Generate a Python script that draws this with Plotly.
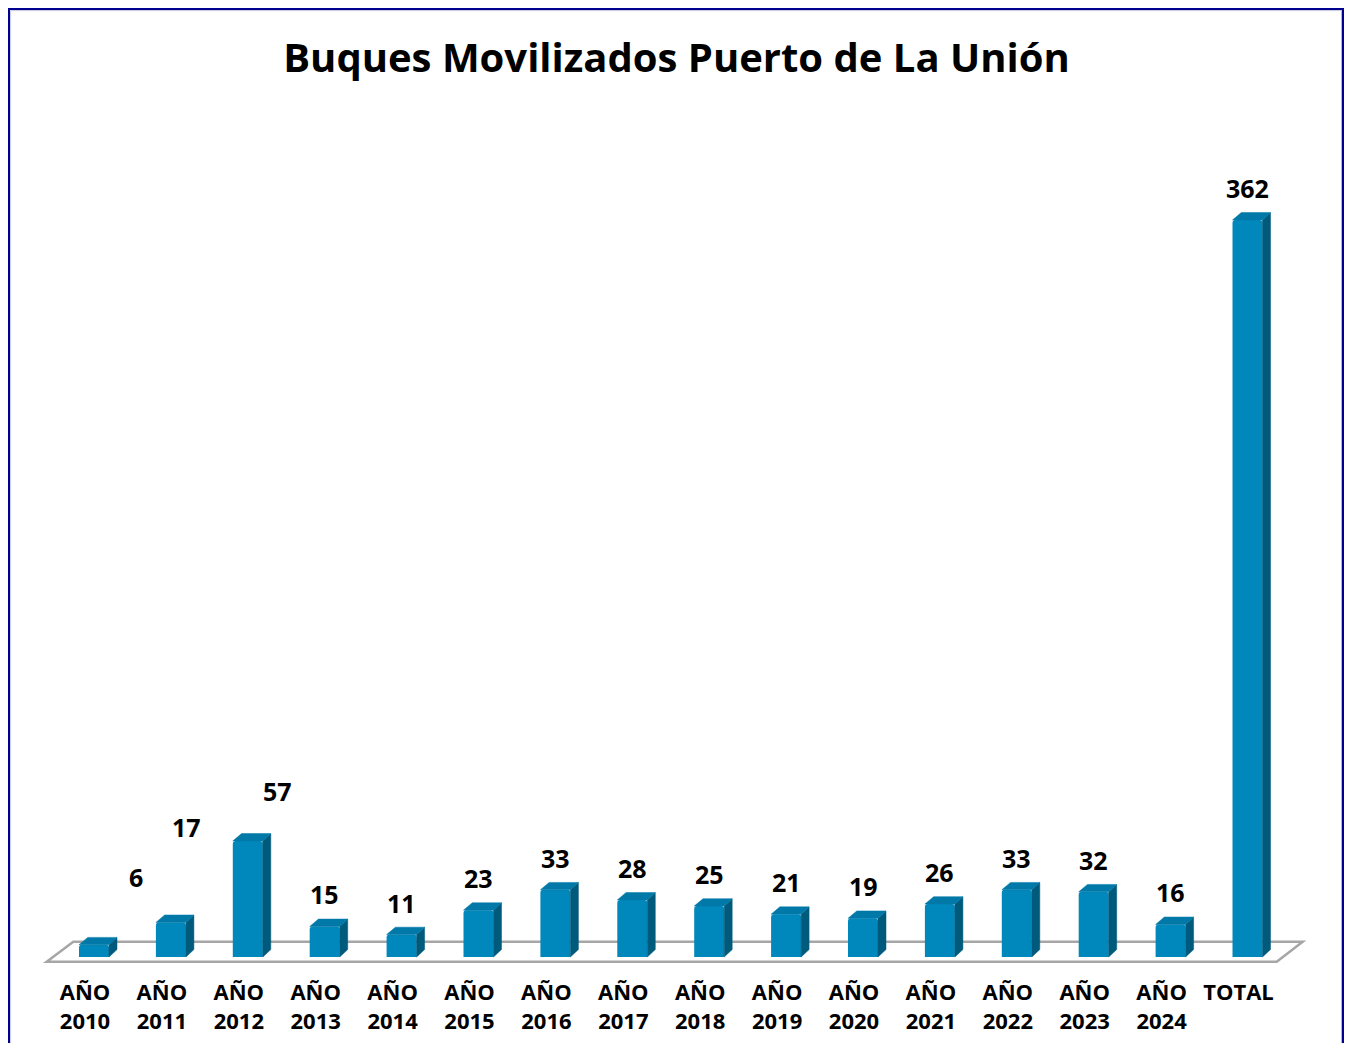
import plotly.graph_objects as go

# ---------------- data ----------------
categories = ["AÑO<br>2010", "AÑO<br>2011", "AÑO<br>2012", "AÑO<br>2013", "AÑO<br>2014",
              "AÑO<br>2015", "AÑO<br>2016", "AÑO<br>2017", "AÑO<br>2018", "AÑO<br>2019",
              "AÑO<br>2020", "AÑO<br>2021", "AÑO<br>2022", "AÑO<br>2023", "AÑO<br>2024",
              "TOTAL"]
values = [6, 17, 57, 15, 11, 23, 33, 28, 25, 21, 19, 26, 33, 32, 16, 362]
title_text = "Buques Movilizados Puerto de La Unión"

# ---------------- style / layout (pixels) ----------------
label_dx = [42, 16, 30, 0, 0, 0, 0, 0, 0, 0, 0, 0, 0, 0, 0, 0]
label_dy = [68, 95, 50, 32, 32, 32, 32, 32, 32, 32, 32, 32, 32, 32, 32, 32]

FIG_W, FIG_H = 1336, 1035
PX_X = 76.9          # px per category
X0_PX = 86.0         # px of first category centre
PX_Y = 2.036         # px per unit
ZERO_PX = 949.0      # px of value 0
L, R_EDGE = 28.0, 1298.0
T, B = 150.0, 958.0

BAR_W = 30.0 / PX_X
DX = 8.0 / PX_X
DY = 7.4 / PX_Y
FONT = "Open Sans"

x_lo = (L - X0_PX) / PX_X
x_hi = (R_EDGE - X0_PX) / PX_X
y_lo = (ZERO_PX - B) / PX_Y
y_hi = (ZERO_PX - T) / PX_Y

def ux(px):
    return (px - X0_PX) / PX_X

def uy(px):
    return (ZERO_PX - px) / PX_Y

idx = list(range(len(values)))

fig = go.Figure()

# front faces
fig.add_trace(go.Bar(x=idx, y=values, width=BAR_W,
                     marker=dict(color="#0087BB", line=dict(width=0), cornerradius=3),
                     hoverinfo="skip", showlegend=False))

# side faces and top caps
sx, sy, tx, ty = [], [], [], []
for i, v in zip(idx, values):
    xl, xr = i - BAR_W / 2, i + BAR_W / 2
    sx += [xr, xr + DX, xr + DX, xr, xr, None]
    sy += [0, DY, v + DY, v, 0, None]
    tx += [xl, xr, xr + DX, xl + DX + 0.01, xl, None]
    ty += [v, v, v + DY, v + DY, v, None]
fig.add_trace(go.Scatter(x=sx, y=sy, mode="lines", fill="toself", fillcolor="#005A7C",
                         line=dict(width=0.5, color="#005A7C"), hoverinfo="skip", showlegend=False))
fig.add_trace(go.Scatter(x=tx, y=ty, mode="lines", fill="toself", fillcolor="#0079A8",
                         line=dict(width=0.5, color="#0079A8"), hoverinfo="skip", showlegend=False))

# value labels
for i, v in zip(idx, values):
    fig.add_annotation(x=i, y=v, text=f"<b>{v}</b>", showarrow=False,
                       xshift=label_dx[i], yshift=label_dy[i], yanchor="middle",
                       font=dict(family=FONT, size=25, color="black"))

# floor (3D plane)
fx0, fx1 = ux(38.7), ux(1268.7)
bx0, bx1 = ux(65.3), ux(1294.7)
fy, by = uy(953.7), uy(933.7)
fig.add_shape(type="path", xref="x", yref="y", layer="below",
              path=f"M {fx0},{fy} L {fx1},{fy} L {bx1},{by} L {bx0},{by} Z",
              line=dict(color="#A6A6A6", width=2.5), fillcolor="white")

# frame
pw, ph = R_EDGE - L, B - T
def pxp(px):
    return (px - L) / pw
def pyp(py):
    return (B - py) / ph
navy = "#000090"
fig.add_shape(type="line", xref="paper", yref="paper",
              x0=pxp(0.5), x1=pxp(0.5), y0=pyp(0), y1=pyp(1100), line=dict(color=navy, width=3))
fig.add_shape(type="line", xref="paper", yref="paper",
              x0=pxp(1335.2), x1=pxp(1335.2), y0=pyp(0), y1=pyp(1100), line=dict(color=navy, width=3))
fig.add_shape(type="line", xref="paper", yref="paper",
              x0=pxp(0), x1=pxp(1336.7), y0=pyp(0.5), y1=pyp(0.5), line=dict(color=navy, width=3))
fig.add_shape(type="line", xref="paper", yref="paper",
              x0=pxp(2.8), x1=pxp(1333.5), y0=pyp(2.6), y1=pyp(2.6), line=dict(color="#C8C8DC", width=1))
fig.add_shape(type="line", xref="paper", yref="paper",
              x0=pxp(2.6), x1=pxp(2.6), y0=pyp(2.6), y1=pyp(1100), line=dict(color="#C8C8DC", width=1))

fig.update_layout(
    width=FIG_W, height=FIG_H,
    margin=dict(l=L, r=FIG_W - R_EDGE, t=T, b=FIG_H - B, pad=0, autoexpand=False),
    paper_bgcolor="white", plot_bgcolor="white",
    title=dict(text=title_text, x=668.5 / FIG_W, xref="container", xanchor="center",
               y=1 - 50 / FIG_H, yref="container", yanchor="middle",
               font=dict(family=FONT, size=40, color="black", weight="bold")),
    xaxis=dict(range=[x_lo, x_hi], showgrid=False, zeroline=False, showline=False,
               automargin=False,
               tickmode="array", tickvals=[i - 9 / PX_X for i in idx], ticktext=categories,
               ticks="", ticklabelstandoff=11,
               tickfont=dict(family=FONT, size=22, color="black", weight="bold")),
    yaxis=dict(range=[y_lo, y_hi], visible=False, automargin=False),
    showlegend=False,
)

fig.write_html("out.html")
